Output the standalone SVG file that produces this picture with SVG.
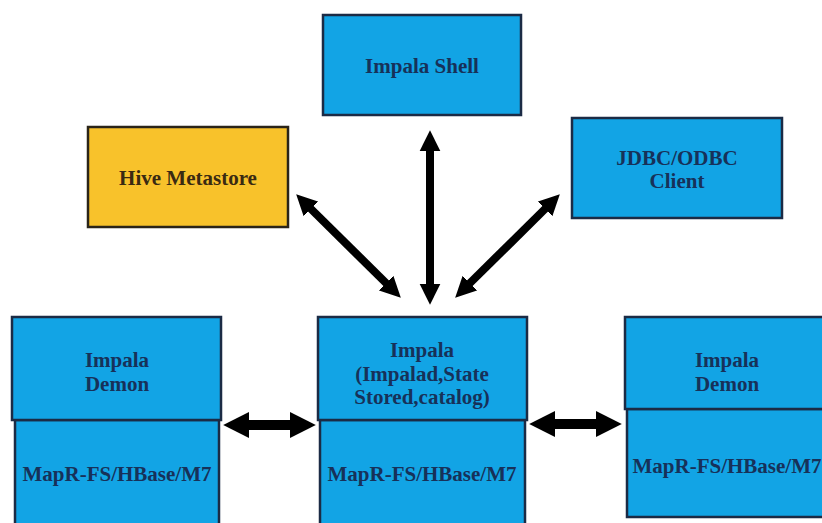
<svg xmlns="http://www.w3.org/2000/svg" width="822" height="523" viewBox="0 0 822 523">
  <style>
    .blue { fill: #12A4E5; stroke: #1B2B45; stroke-width: 2.5; }
    .yellow { fill: #F8C22B; stroke: #2A2418; stroke-width: 2.5; }
    .t { font-family: "Liberation Serif", "Times New Roman", serif; font-weight: bold; font-size: 21px; fill: #173159; text-anchor: middle; }
    .th { fill: #3A2A12; }
    .conn { stroke: #000; stroke-width: 8; fill: none; marker-start: url(#ah); marker-end: url(#ah); }
    .wide { stroke-width: 10; }
  </style>
  <defs>
    <marker id="ah" viewBox="0 0 10 10" refX="2" refY="5" markerWidth="2.6" markerHeight="2.8" orient="auto-start-reverse" markerUnits="strokeWidth">
      <path d="M0,0 L10,5 L0,10 Z" fill="#000"/>
    </marker>
  </defs>
  <rect width="822" height="523" fill="#fff"/>

  <g id="impala-shell">
    <rect class="blue" x="323" y="15" width="198" height="100"/>
    <text class="t" x="422" y="73">Impala Shell</text>
  </g>
  <g id="hive-metastore">
    <rect class="yellow" x="88" y="127" width="200" height="100"/>
    <text class="t th" x="188" y="185">Hive Metastore</text>
  </g>
  <g id="jdbc-odbc">
    <rect class="blue" x="572" y="118" width="210" height="100"/>
    <text class="t" x="677" y="165">JDBC/ODBC</text>
    <text class="t" x="677" y="188">Client</text>
  </g>

  <g id="demon-left">
    <rect class="blue" x="15" y="420" width="204" height="110"/>
    <rect class="blue" x="12" y="317" width="209" height="103"/>
    <text class="t" x="117" y="367">Impala</text>
    <text class="t" x="117" y="391">Demon</text>
    <text class="t" x="117" y="481">MapR-FS/HBase/M7</text>
  </g>
  <g id="impala-center">
    <rect class="blue" x="320" y="420" width="205" height="110"/>
    <rect class="blue" x="318" y="317" width="209" height="103"/>
    <text class="t" x="422" y="357">Impala</text>
    <text class="t" x="422" y="381">(Impalad,State</text>
    <text class="t" x="422" y="404">Stored,catalog)</text>
    <text class="t" x="422" y="481">MapR-FS/HBase/M7</text>
  </g>
  <g id="demon-right">
    <rect class="blue" x="627" y="409" width="205" height="108"/>
    <rect class="blue" x="625" y="317" width="207" height="92"/>
    <text class="t" x="727" y="367">Impala</text>
    <text class="t" x="727" y="391">Demon</text>
    <text class="t" x="727" y="473">MapR-FS/HBase/M7</text>
  </g>

  <g id="connectors">
    <line class="conn" x1="430" y1="147" x2="430" y2="288"/>
    <line class="conn" x1="308" y1="206" x2="389" y2="286"/>
    <line class="conn" x1="548" y1="206" x2="467" y2="286"/>
    <line class="conn wide" x1="244" y1="425" x2="295" y2="425"/>
    <line class="conn wide" x1="550" y1="424" x2="601" y2="424"/>
  </g>
</svg>
